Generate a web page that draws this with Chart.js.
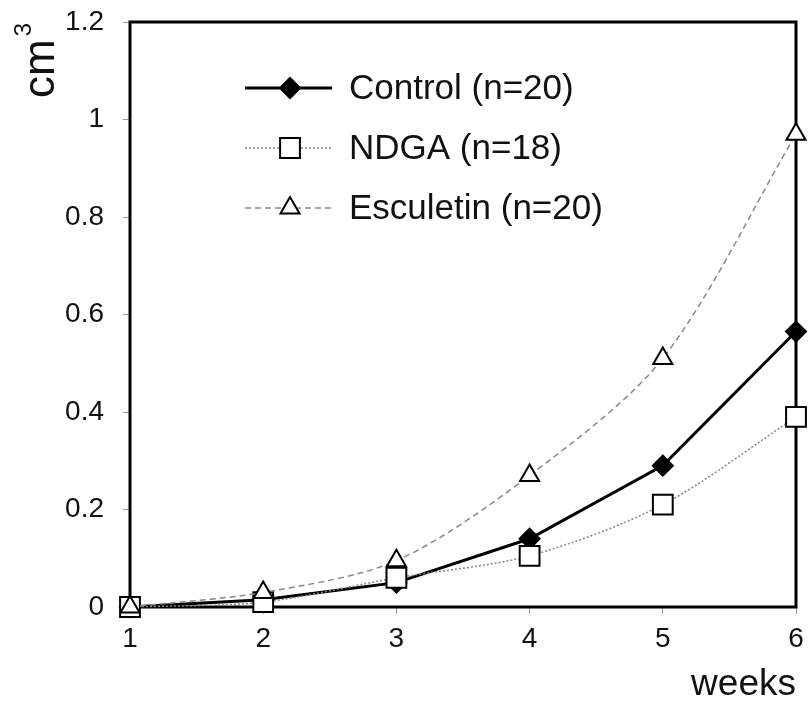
<!DOCTYPE html>
<html>
<head>
<meta charset="utf-8">
<script src="https://cdn.jsdelivr.net/npm/chart.js@4.4.0/dist/chart.umd.min.js"></script>
<style>
  body { margin: 0; background: #fff; }
  canvas { display: block; }
</style>
</head>
<body>
<canvas id="chart" width="812" height="710"></canvas>
<script>
const weeks = ["1", "2", "3", "4", "5", "6"];
const control = [0, 0.015, 0.05, 0.14, 0.29, 0.565];
const ndga = [0, 0.01, 0.06, 0.105, 0.21, 0.39];
const esculetin = [0, 0.03, 0.095, 0.27, 0.51, 0.97];
const seriesLabels = ["Control (n=20)", "NDGA (n=18)", "Esculetin (n=20)"];

const FONT = "'Liberation Sans', Arial, sans-serif";

function drawMarker(ctx, style, x, y, r) {
  ctx.save();
  ctx.setLineDash([]);
  ctx.lineWidth = 2;
  ctx.strokeStyle = "#000";
  ctx.beginPath();
  if (style === "rectRot") {
    ctx.moveTo(x, y - r); ctx.lineTo(x + r, y); ctx.lineTo(x, y + r); ctx.lineTo(x - r, y);
    ctx.closePath();
    ctx.fillStyle = "#000";
  } else if (style === "rect") {
    const s = r * Math.SQRT1_2;
    ctx.rect(x - s, y - s, 2 * s, 2 * s);
    ctx.fillStyle = "#fff";
  } else {
    ctx.moveTo(x, y - r);
    ctx.lineTo(x + r * Math.sin(Math.PI * 2 / 3), y - r * Math.cos(Math.PI * 2 / 3));
    ctx.lineTo(x - r * Math.sin(Math.PI * 2 / 3), y - r * Math.cos(Math.PI * 2 / 3));
    ctx.closePath();
    ctx.fillStyle = "#fff";
  }
  ctx.fill();
  ctx.stroke();
  ctx.restore();
}

// box around the plot area, under the markers
const frame = {
  id: "frame",
  beforeDatasetsDraw(chart) {
    const { ctx, chartArea: a } = chart;
    ctx.save();
    ctx.strokeStyle = "#000";
    ctx.lineWidth = 3;
    ctx.strokeRect(a.left, a.top, a.right - a.left, a.bottom - a.top);
    ctx.restore();
  }
};

// y unit: "cm" with a big superscript 3, rotated
const unitTitle = {
  id: "unitTitle",
  afterDraw(chart) {
    const ctx = chart.ctx;
    ctx.save();
    ctx.fillStyle = "#111";
    ctx.translate(54, 98);
    ctx.rotate(-Math.PI / 2);
    ctx.textBaseline = "alphabetic";
    ctx.font = "44px " + FONT;
    ctx.fillText("cm", 0, 0);
    const w = ctx.measureText("cm").width;
    ctx.font = "24px " + FONT;
    ctx.fillText("3", w + 3, -23);
    ctx.restore();
  }
};

// legend with line + marker, like the original
const lineLegend = {
  id: "lineLegend",
  afterDraw(chart) {
    const ctx = chart.ctx;
    const x0 = 245, x1 = 332, xm = 290, xt = 349;
    const ys = [88, 148, 208];
    chart.data.datasets.forEach((ds, i) => {
      const y = ys[i];
      ctx.save();
      ctx.strokeStyle = ds.borderColor;
      ctx.lineWidth = ds.borderWidth;
      ctx.setLineDash(ds.borderDash || []);
      ctx.beginPath();
      ctx.moveTo(x0, y);
      ctx.lineTo(x1, y);
      ctx.stroke();
      ctx.restore();
      drawMarker(ctx, ds.pointStyle, xm, y, ds.pointRadius);
      ctx.save();
      ctx.fillStyle = "#111";
      ctx.font = "35px " + FONT;
      ctx.textBaseline = "middle";
      ctx.fillText(ds.label, xt, y + 1);
      ctx.restore();
    });
  }
};

new Chart(document.getElementById("chart"), {
  type: "line",
  data: {
    labels: weeks,
    datasets: [
      {
        label: seriesLabels[0],
        data: control,
        borderColor: "#000",
        borderWidth: 3,
        pointStyle: "rectRot",
        pointRadius: 10,
        pointBackgroundColor: "#000",
        pointBorderColor: "#000",
        pointBorderWidth: 2,
        tension: 0,
        clip: false,
        order: 2
      },
      {
        label: seriesLabels[1],
        data: ndga,
        borderColor: "#888",
        borderWidth: 1.5,
        borderDash: [2, 2],
        pointStyle: "rect",
        pointRadius: 14,
        pointBackgroundColor: "#fff",
        pointBorderColor: "#000",
        pointBorderWidth: 2,
        tension: 0.3,
        clip: false,
        order: 1
      },
      {
        label: seriesLabels[2],
        data: esculetin,
        borderColor: "#888",
        borderWidth: 1.5,
        borderDash: [6, 4],
        pointStyle: "triangle",
        pointRadius: 11,
        pointBackgroundColor: "#fff",
        pointBorderColor: "#000",
        pointBorderWidth: 2,
        tension: 0.3,
        clip: false,
        order: 0
      }
    ]
  },
  options: {
    responsive: false,
    animation: false,
    layout: { padding: { top: 22, right: 7, left: 0, bottom: 0 } },
    plugins: {
      legend: { display: false },
      tooltip: { enabled: false }
    },
    scales: {
      x: {
        offset: false,
        border: { display: false },
        grid: { drawOnChartArea: false, drawTicks: true, tickLength: 7, color: "#999" },
        ticks: { color: "#111", font: { family: FONT, size: 28 }, padding: 8, maxRotation: 0 },
        title: {
          display: true, text: "weeks", align: "end", color: "#111",
          font: { family: FONT, size: 37 }, padding: { top: 0, bottom: 3 }
        },
        afterFit(scale) { scale.height = 103; }
      },
      y: {
        min: 0,
        max: 1.2,
        border: { display: false },
        grid: { drawOnChartArea: false, drawTicks: true, tickLength: 7, color: "#999" },
        ticks: {
          stepSize: 0.2, color: "#111", font: { family: FONT, size: 28 }, padding: 19,
          callback: v => String(+v.toFixed(1))
        },
        afterFit(scale) {
          scale.width = 130;
          scale.paddingTop = 0;
          scale.paddingBottom = 0;
        }
      }
    }
  },
  plugins: [frame, unitTitle, lineLegend]
});
</script>
</body>
</html>
